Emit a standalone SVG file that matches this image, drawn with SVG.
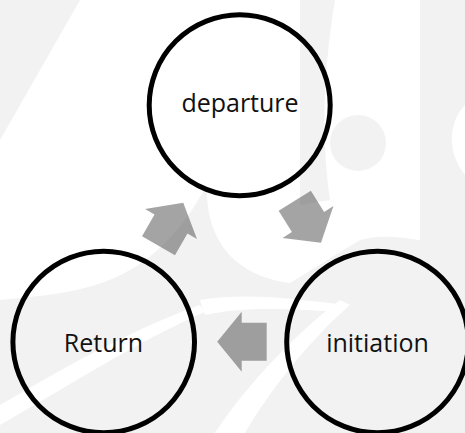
<svg xmlns="http://www.w3.org/2000/svg" width="465" height="433" viewBox="0 0 465 433">
  <style>
    .bg { fill: #f2f2f2; }
    .hl { fill: #ffffff; }
    .node circle { fill: none; stroke: #000000; stroke-width: 5; }
    .node text { font-family: "Open Sans", "Noto Sans", "Liberation Sans", sans-serif; font-size: 25px; fill: #111111; text-anchor: middle; }
    .arrow { fill: #5a5a5a; fill-opacity: 0.55; }
  </style>
  <defs>
    <path id="blockArrow" d="M-25,-19 H0 V-30 L24.5,0 L0,30 V19 H-25 Z"/>
  </defs>

  <g id="background">
    <rect x="0" y="0" width="465" height="433" fill="#ffffff"/>
    <path class="bg" d="M0,0 H80 L0,140 Z"/>
    <path class="bg" d="M300,0 H335 C325,60 320,130 330,200 L300,205 Z"/>
    <path class="bg" d="M420,0 H465 V255 L420,250 Z"/>
    <circle class="bg" cx="358" cy="143" r="28"/>
    <path class="bg" d="M207,185 C205,235 230,275 290,283 L360,240 C390,232 420,240 465,250 V433 H0 V300 C80,292 150,290 207,185 Z"/>
    <path class="hl" d="M465,105 C450,120 445,150 465,175 Z"/>
    <path class="hl" d="M200,300 C250,292 300,300 345,305 L340,312 C300,310 250,305 205,315 Z"/>
    <path class="hl" d="M0,405 C60,370 130,330 200,305 L205,312 C140,340 70,385 0,425 Z"/>
    <path class="hl" d="M215,433 C250,380 300,330 340,300 L350,305 C310,340 270,390 245,433 Z"/>
  </g>

  <g id="connectors">
    <use href="#blockArrow" class="arrow" transform="translate(308,222) rotate(58)"/>
    <use href="#blockArrow" class="arrow" transform="translate(241.7,341.7) rotate(180)"/>
    <use href="#blockArrow" class="arrow" transform="translate(171,224) rotate(-60)"/>
  </g>

  <g id="node-departure" class="node">
    <circle cx="239.7" cy="105.3" r="90.5"/>
    <text x="240" y="112">departure</text>
  </g>
  <g id="node-initiation" class="node">
    <circle cx="377.5" cy="342" r="90.8"/>
    <text x="377.5" y="351.5">initiation</text>
  </g>
  <g id="node-return" class="node">
    <circle cx="103.7" cy="342" r="90.8"/>
    <text x="103.5" y="351.5">Return</text>
  </g>
</svg>
